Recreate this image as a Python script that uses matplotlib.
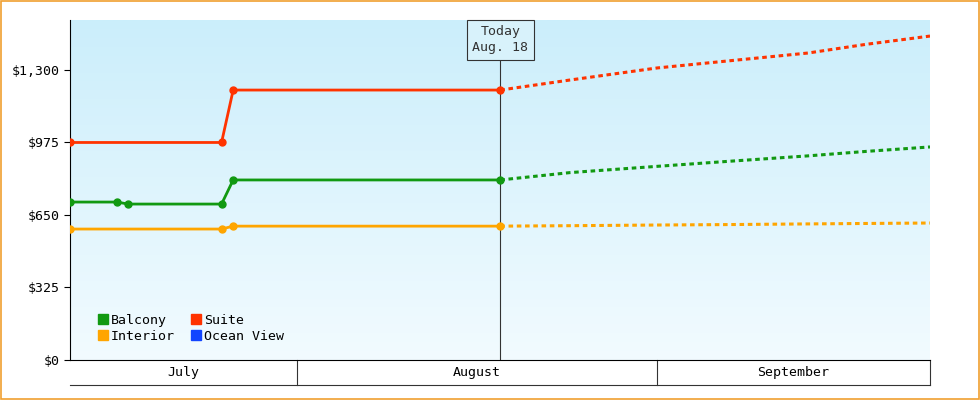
import numpy as np
import matplotlib.pyplot as plt
from matplotlib.patches import Rectangle

# x values are day numbers counted from July 1 (Aug 1 = 31, Sep 1 = 62)
x_hist_suite = [11.45, 24.5, 25.5, 48.5]
y_hist_suite = [975, 975, 1210, 1210]
x_hist_balcony = [11.45, 15.5, 16.45, 24.5, 25.5, 48.5]
y_hist_balcony = [708, 708, 699, 699, 807, 807]
x_hist_interior = [11.45, 24.5, 25.5, 48.5]
y_hist_interior = [587, 587, 600, 600]

x_fore = [48.5, 54.5, 62, 68, 75, 80, 85.5]
y_fore_suite = [1210, 1255, 1309, 1340, 1376, 1415, 1452]
y_fore_balcony = [807, 840, 868, 890, 915, 935, 955]
y_fore_interior = [600, 602, 605, 607, 610, 612, 614]

months = ['July', 'August', 'September']
month_edges = [11.45, 31, 62, 85.5]
yticks = [0, 325, 650, 975, 1300]
ytick_labels = ['$0', '$325', '$650', '$975', '$1,300']

plt.rcParams['font.family'] = 'DejaVu Sans Mono'
fig = plt.figure(figsize=(9.8, 4), dpi=100)
fig.patches.append(Rectangle((0.001, 0.002), 0.998, 0.996, transform=fig.transFigure,
                             fill=False, edgecolor='#f0a030', lw=1.2))
ax = fig.add_axes([70/980, 40/400, 860/980, 340/400])
xmin, xmax, ymin, ymax = 11.45, 85.5, 0, 1524
ax.imshow(np.linspace(0, 1, 256).reshape(-1, 1), aspect='auto',
          extent=[xmin, xmax, ymin, ymax], origin='upper', zorder=0,
          cmap=plt.matplotlib.colors.LinearSegmentedColormap.from_list(
              'bg', ['#cbeefb', '#f2fbff']))
ax.set_xlim(xmin, xmax)
ax.set_ylim(ymin, ymax)

series = [('Suite', '#ff3300', x_hist_suite, y_hist_suite, y_fore_suite),
          ('Balcony', '#119911', x_hist_balcony, y_hist_balcony, y_fore_balcony),
          ('Interior', '#ffa500', x_hist_interior, y_hist_interior, y_fore_interior)]
for name, c, xh, yh, yf in series:
    ax.plot(xh, yh, color=c, lw=2, marker='o', ms=5, zorder=3)
    ax.plot(x_fore, yf, color=c, lw=2.2, ls=(0, (1.5, 1.2)), zorder=3)

ax.axvline(48.5, color='#333333', lw=0.8, zorder=2)
ax.text(48.5, 1435, 'Today\nAug. 18', ha='center', va='center', fontsize=9.5,
        color='#333333', zorder=4, linespacing=1.3,
        bbox=dict(boxstyle='square,pad=0.4', fc='#d8f2fb', ec='#333333', lw=0.8))

ax.set_yticks(yticks)
ax.set_yticklabels(ytick_labels, fontsize=9.5)
ax.set_xticks([])
for s in ['top', 'right']:
    ax.spines[s].set_visible(False)
ax.tick_params(axis='y', length=4)

for i, m in enumerate(months):
    ax.text((month_edges[i] + month_edges[i+1]) / 2, -57, m, ha='center',
            va='center', fontsize=9.5, clip_on=False)
for e in month_edges[1:]:
    ax.plot([e, e], [0, -112], color='#333333', lw=0.8, clip_on=False)
ax.plot([xmin, xmax], [-112, -112], color='#333333', lw=0.8, clip_on=False)

# column-first fill so rows read Balcony/Suite, Interior/Ocean View
legend_items = [('Balcony', '#119911'), ('Interior', '#ffa500'),
                ('Suite', '#ff3300'), ('Ocean View', '#1144ff')]
handles = [plt.Line2D([], [], ls='', marker='s', ms=7, color=c) for _, c in legend_items]
ax.legend(handles, [n for n, _ in legend_items], ncol=2, loc='lower left',
          frameon=False, fontsize=9.5, handletextpad=0.0, columnspacing=1.0,
          labelspacing=0.25, handlelength=1.2, bbox_to_anchor=(0.015, 0.015))

fig.savefig('out.png')
